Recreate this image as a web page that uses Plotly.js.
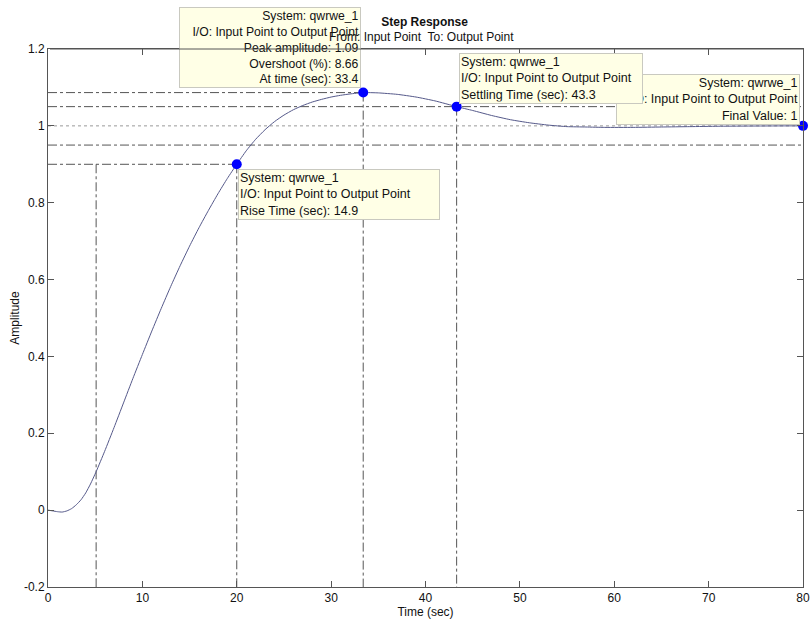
<!DOCTYPE html>
<html>
<head>
<meta charset="utf-8">
<script src="https://cdn.plot.ly/plotly-3.0.1.min.js"></script>
<style>html,body{margin:0;padding:0;background:#fff;}#chart{width:811px;height:621px;}</style>
</head>
<body>
<div id="chart"></div>
<script>
// Step response samples (time in sec, amplitude)
const timeSec = [0, 0.5, 1, 1.5, 2, 2.5, 3, 3.5, 4, 4.5, 5.1, 6, 7, 8, 9, 10, 11, 12, 13, 14, 15, 16, 17, 18, 19, 20, 21, 22, 23, 24, 25, 26, 27, 28, 29, 30, 31, 32, 33.4, 35, 37, 39, 41, 43.3, 45, 47, 49, 51, 53, 55, 57, 59, 62, 65, 68, 71, 74, 77, 80];
const amplitude = [0, -0.002, -0.004, -0.005, -0.002, 0.004, 0.014, 0.027, 0.045, 0.068, 0.10, 0.153, 0.215, 0.279, 0.343, 0.405, 0.466, 0.525, 0.582, 0.636, 0.687, 0.735, 0.78, 0.823, 0.863, 0.90, 0.935, 0.965, 0.99, 1.011, 1.028, 1.042, 1.053, 1.062, 1.069, 1.075, 1.0795, 1.083, 1.0866, 1.0858, 1.082, 1.075, 1.065, 1.05, 1.04, 1.027, 1.016, 1.008, 1.002, 0.998, 0.997, 0.996, 0.996, 0.997, 0.998, 0.999, 0.9995, 0.9998, 1.0];

// Characteristics
const riseLowTime = 5.1, riseHighTime = 20, riseHighValue = 0.9, riseTime = 14.9;
const peakTime = 33.4, peakValue = 1.0866, overshootPct = 8.66;
const settleTime = 43.3, settleUpper = 1.05, settleLower = 0.95;
const finalTime = 80, finalValue = 1;

// Axes
const xRange = [0, 80], yRange = [-0.2, 1.2];
const xTickVals = [0, 10, 20, 30, 40, 50, 60, 70, 80];
const xTickText = ['0', '10', '20', '30', '40', '50', '60', '70', '80'];
const yTickVals = [-0.2, 0, 0.2, 0.4, 0.6, 0.8, 1, 1.2];
const yTickText = ['-0.2', '0', '0.2', '0.4', '0.6', '0.8', '1', '1.2'];

const FONT = 'Liberation Sans, Arial, Helvetica, sans-serif';
const refLine = {color: '#555', width: 1, dash: 'dashdot'};

function seg(x, y, line) {
  return {x: x, y: y, type: 'scatter', mode: 'lines', line: line, hoverinfo: 'skip', showlegend: false};
}

const traces = [
  // settling band
  seg([xRange[0], xRange[1]], [settleUpper, settleUpper], refLine),
  seg([xRange[0], xRange[1]], [settleLower, settleLower], refLine),
  seg([settleTime, settleTime], [settleUpper, yRange[0]], refLine),
  // final value
  seg([xRange[0], xRange[1]], [finalValue, finalValue], {color: '#999', width: 1, dash: 'dot'}),
  // peak
  seg([xRange[0], peakTime], [peakValue, peakValue], refLine),
  seg([peakTime, peakTime], [peakValue, yRange[0]], refLine),
  // rise
  seg([xRange[0], riseHighTime], [riseHighValue, riseHighValue], refLine),
  seg([riseHighTime, riseHighTime], [riseHighValue, yRange[0]], refLine),
  seg([riseLowTime, riseLowTime], [riseHighValue, yRange[0]], refLine),
  // response
  {x: timeSec, y: amplitude, type: 'scatter', mode: 'lines', line: {color: '#55598a', width: 1, shape: 'spline', smoothing: 0.5}, showlegend: false},
  // markers
  {x: [riseHighTime, peakTime, settleTime, finalTime], y: [riseHighValue, peakValue, settleUpper, finalValue],
   type: 'scatter', mode: 'markers', marker: {color: '#0000ff', size: 10}, cliponaxis: false, showlegend: false}
];

const boxStyle = {bgcolor: '#ffffe6', bordercolor: '#c9c9c0', borderwidth: 1, borderpad: 1,
  font: {family: FONT, size: 12.5, color: '#111'}, showarrow: false, xref: 'x', yref: 'y'};

const annotations = [
  Object.assign({}, boxStyle, {x: finalTime, y: finalValue, xanchor: 'right', yanchor: 'bottom', xshift: -3, yshift: 1, width: 180, align: 'right',
    text: 'System: qwrwe_1<br>I/O: Input Point to Output Point<br>Final Value: ' + finalValue}),
  Object.assign({}, boxStyle, {x: settleTime, y: settleUpper, xanchor: 'left', yanchor: 'bottom', xshift: 2, yshift: 3, width: 180, align: 'left',
    text: 'System: qwrwe_1<br>I/O: Input Point to Output Point<br>Settling Time (sec): ' + settleTime}),
  Object.assign({}, boxStyle, {x: riseHighTime, y: riseHighValue, xanchor: 'left', yanchor: 'top', xshift: 1, yshift: -5, width: 198, align: 'left',
    text: 'System: qwrwe_1<br>I/O: Input Point to Output Point<br>Rise Time (sec): ' + riseTime}),
  Object.assign({}, boxStyle, {x: peakTime, y: peakValue, xanchor: 'right', yanchor: 'bottom', xshift: -2, yshift: 5, width: 178, align: 'right',
    font: {family: FONT, size: 12.2, color: '#111'},
    text: 'System: qwrwe_1<br>I/O: Input Point to Output Point<br>Peak amplitude: ' + peakValue.toFixed(2) + '<br>Overshoot (%): ' + overshootPct + '<br>At time (sec): ' + peakTime}),
  // second title line (drawn over the peak box, as in the original)
  {text: 'From: Input Point  To: Output Point', xref: 'paper', yref: 'paper', x: 0.495, y: 1.0223, xanchor: 'center', yanchor: 'middle',
   showarrow: false, font: {family: FONT, size: 12, color: '#111'}},
  // top frame line re-drawn above the peak box
  {x: xRange[1], y: yRange[1], ax: xRange[0], ay: yRange[1], xref: 'x', yref: 'y', axref: 'x', ayref: 'y',
   text: '.', font: {size: 2, color: 'rgba(0,0,0,0)'}, showarrow: true, arrowhead: 0, arrowwidth: 1, arrowcolor: '#555', standoff: 0, startstandoff: 0}
];

const layout = {
  width: 811, height: 621,
  margin: {l: 48, r: 8, t: 49, b: 34},
  paper_bgcolor: '#fff', plot_bgcolor: '#fff',
  font: {family: FONT, size: 12, color: '#111'},
  title: {text: 'Step Response', font: {family: FONT, size: 12, weight: 'bold', color: '#111'},
          x: 0.5235, xanchor: 'center', y: 1 - 22 / 621, yanchor: 'middle', xref: 'container', yref: 'container'},
  xaxis: {range: xRange, tickvals: xTickVals, ticktext: xTickText, ticks: 'inside', ticklen: 6, tickcolor: '#555',
          showline: true, linecolor: '#555', linewidth: 1, mirror: 'ticks', showgrid: false, zeroline: false,
          tickfont: {family: FONT, size: 12, color: '#111'},
          title: {text: 'Time (sec)', font: {family: FONT, size: 12, color: '#111'}, standoff: 2}},
  yaxis: {range: yRange, tickvals: yTickVals, ticktext: yTickText, ticks: 'inside', ticklen: 6, tickcolor: '#555',
          showline: true, linecolor: '#555', linewidth: 1, mirror: 'ticks', showgrid: false, zeroline: false,
          tickfont: {family: FONT, size: 12, color: '#111'},
          title: {text: 'Amplitude', font: {family: FONT, size: 12, color: '#111'}, standoff: 1}},
  annotations: annotations,
  showlegend: false
};

Plotly.newPlot('chart', traces, layout, {displayModeBar: false, staticPlot: true});
</script>
</body>
</html>
